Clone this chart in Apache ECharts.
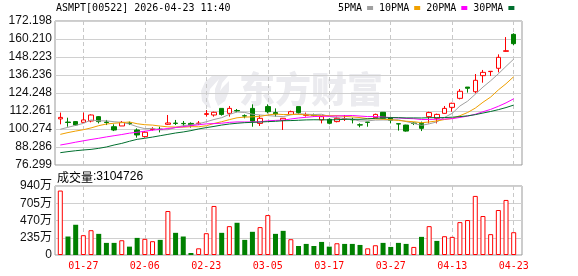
<!DOCTYPE html>
<html><head><meta charset="utf-8">
<script src="https://cdn.jsdelivr.net/npm/echarts@6/dist/echarts.min.js"></script>
<style>html,body{margin:0;padding:0;background:#fff}#c{width:578px;height:276px}</style>
</head><body><div id="c"></div>
<script>
const dates = ['01-22','01-23','01-26','01-27','01-28','01-29','01-30','02-02','02-03','02-04','02-05','02-06','02-09','02-10','02-11','02-12','02-13','02-16','02-20','02-23','02-24','02-25','02-26','02-27','03-02','03-03','03-04','03-05','03-06','03-09','03-10','03-11','03-12','03-13','03-16','03-17','03-18','03-19','03-20','03-23','03-24','03-25','03-26','03-27','03-30','03-31','04-01','04-02','04-08','04-09','04-10','04-13','04-14','04-15','04-16','04-17','04-20','04-21','04-22','04-23'];
const labelIdx = [3,11,19,27,35,43,51,59];
const openP = [107.0,104.9,105.2,104.7,105.6,108.5,104.9,101.8,102.3,104.2,99.6,95.2,100.0,100.2,103.4,104.2,104.0,104.0,103.9,110.0,109.6,114.0,110.7,112.6,109.1,114.0,104.0,115.2,111.2,106.0,110.0,115.2,109.4,109.6,106.3,106.7,105.2,107.0,106.6,103.1,104.9,107.8,111.4,107.8,103.8,102.9,104.2,104.0,108.5,107.4,110.7,114.7,120.7,128.2,125.1,135.8,138.5,140.7,152.0,163.3];
const closeP = [108.0,104.6,102.9,106.3,109.6,105.2,104.6,99.6,104.7,104.0,96.3,98.1,100.3,99.9,104.3,104.0,103.8,102.9,104.2,110.5,111.4,110.0,114.0,112.3,108.9,105.5,107.4,111.8,110.3,107.4,111.8,111.2,109.8,109.3,108.5,104.1,107.4,107.2,106.4,102.9,104.7,110.0,107.4,106.1,103.6,98.9,104.0,100.7,111.2,110.0,114.0,117.4,125.4,127.4,132.7,138.0,138.7,148.0,152.4,157.1];
const lowP = [103.4,101.8,102.3,104.5,104.7,104.0,102.9,98.9,102.3,102.9,94.5,94.5,99.2,98.0,102.9,102.9,101.8,101.2,102.9,108.5,108.5,109.2,108.5,111.4,107.4,101.8,102.3,110.7,108.5,99.6,109.6,110.0,108.5,108.5,104.0,103.4,104.7,105.6,104.0,101.4,101.8,107.4,107.0,104.0,99.2,98.5,102.9,98.9,104.0,104.0,110.5,111.8,120.0,124.5,124.0,131.1,135.6,138.0,151.8,156.2];
const highP = [111.2,107.8,105.6,111.2,110.0,108.9,106.3,103.4,105.6,105.2,100.7,98.9,101.5,101.8,109.6,106.3,105.6,104.7,105.6,112.9,111.8,114.0,115.6,113.6,110.0,116.7,109.6,116.7,114.0,107.4,112.5,115.2,111.2,110.5,108.9,107.4,108.5,109.6,107.8,104.0,105.0,110.5,111.6,108.5,104.0,103.1,104.7,105.2,111.8,110.5,115.6,117.8,126.9,128.2,136.9,139.6,138.7,150.0,161.5,164.0];
const ma5 = [100.1,101.4,102.7,104.0,106.3,105.7,105.7,105.1,104.7,103.6,101.8,100.5,100.7,99.7,99.8,101.3,102.5,103.0,103.8,105.1,106.6,107.8,110.0,111.6,111.3,110.1,109.6,109.2,108.8,108.5,109.7,110.5,110.1,109.9,110.1,108.6,107.8,107.3,106.7,105.6,105.7,106.2,106.3,106.2,106.4,105.2,104.0,102.7,103.7,105.0,108.0,110.7,115.6,118.8,123.4,128.2,132.4,137.0,142.0,146.8];
const ma10 = [96.7,97.9,98.9,99.8,101.0,102.5,103.6,104.1,104.5,104.95,103.78,103.13,102.87,102.23,101.70,101.58,101.50,101.83,101.78,102.43,103.94,105.13,106.50,107.74,108.20,108.35,108.71,109.60,110.21,109.90,109.94,110.06,109.64,109.34,109.30,109.16,109.16,108.70,108.31,107.86,107.15,107.03,106.79,106.47,105.98,105.46,105.12,104.47,104.95,105.66,106.59,107.33,109.13,111.26,114.17,118.08,121.55,126.28,130.40,135.11];
const ma20 = [89.6,90.5,91.5,92.4,93.3,94.1,95.0,95.8,96.6,97.5,98.1,98.8,99.5,100.0,100.6,101.2,101.8,102.5,103.1,103.69,103.86,104.13,104.69,104.99,104.95,104.97,105.11,105.72,106.00,106.17,106.94,107.60,108.07,108.54,108.75,108.76,108.94,109.15,109.26,108.88,108.55,108.55,108.22,107.91,107.64,107.31,107.14,106.59,106.63,106.76,106.87,107.18,107.96,108.87,110.08,111.77,113.34,115.38,117.68,120.39];
const ma30 = [84.5,85.2,85.8,86.3,86.7,87.4,88.3,89.6,90.7,92.1,93.4,94.1,94.9,95.8,96.7,97.6,98.3,99.2,100.3,101.2,102.0,102.9,103.6,104.1,104.5,104.7,104.9,105.2,105.4,105.76,105.88,106.10,106.33,106.43,106.40,106.36,106.45,106.71,106.76,106.73,107.01,107.40,107.64,107.85,107.82,107.65,107.66,107.59,107.82,107.81,107.89,108.14,108.52,109.02,109.82,110.90,111.94,113.15,114.55,116.21];
const volWan = [878,252,412,270,338,288,165,165,201,114,233,220,188,206,599,302,252,27,91,297,668,302,393,439,206,316,380,544,288,329,215,123,151,123,178,114,160,151,151,137,91,133,165,110,165,151,110,247,393,192,256,247,448,476,805,531,284,613,750,310.4726];
const volUp = [1,0,0,1,1,0,0,0,1,0,0,1,1,0,1,0,0,0,1,1,1,0,1,0,0,0,1,1,0,0,1,0,0,0,0,0,1,0,0,0,1,1,0,0,0,0,1,0,1,0,1,1,1,1,1,1,1,1,1,1];
const priceTickLabels = ['76.299','88.286','100.274','112.261','124.248','136.236','148.223','160.210','172.198'];
const volTickLabels = ['0','235万','470万','705万','940万'];
const maNames = ['5PMA','10PMA','20PMA','30PMA'];
const maColors = ['#a0a0a0','#f0a000','#ff00ff','#006f2e'];
const titleText = 'ASMPT[00522] 2026-04-23 11:40';
const volLabel = '成交量';
const volNow = '3104726';
const watermark = '东方财富';

const pMin = 76.299, pMax = 172.198, pInt = (pMax - pMin) / 8;
const xMin = -0.69, xMax = 60.08;
const mono = 'DejaVu Sans Mono';

const candleData = dates.map((d, i) => [i, openP[i], closeP[i], lowP[i], highP[i]]);
const volData = volWan.map((v, i) => ({
  value: [i, v],
  itemStyle: volUp[i] ? {color: '#ffffff', borderColor: '#ff0000', borderWidth: 1} : {color: '#008000', borderWidth: 0}
}));
const mas = [ma5, ma10, ma20, ma30];

const gridCommon = {show: true, borderColor: '#999', borderWidth: 1, backgroundColor: 'transparent'};
const xCommon = (gi, showLabel) => ({
  type: 'value', gridIndex: gi, min: xMin, max: xMax,
  axisLine: {show: false},
  axisTick: {show: false, customValues: labelIdx},
  splitLine: {show: true, lineStyle: {color: '#c8c8c8', type: [4, 3], width: 1}},
  axisLabel: {show: showLabel, customValues: labelIdx, color: '#ff0000', fontFamily: mono, fontSize: 10, margin: 6,
    formatter: v => dates[Math.round(v)] || ''}
});

const chart = echarts.init(document.getElementById('c'), null, {renderer: 'canvas'});
chart.setOption({
  animation: false,
  backgroundColor: '#fff',
  title: {text: titleText, left: 56, top: 3, padding: 0, textStyle: {fontFamily: mono, fontSize: 10, fontWeight: 'normal', color: '#000'}},
  legend: {data: maNames, left: 338, top: 3, padding: 0, align: 'right', icon: 'rect', itemWidth: 6, itemHeight: 4, itemGap: 6,
    textStyle: {fontFamily: mono, fontSize: 10, color: '#000'}},
  graphic: [
    {type: 'polygon', left: 201, top: 75, z: -10, silent: true,
      shape: {points: [[14,0],[6,7],[2,16],[3,26],[8,32],[12,33],[9,24],[11,14],[20,4],[16,14],[16,24],[19,31],[26,26],[30,16],[30,6],[24,12],[21,16],[23,8],[29,1],[22,0]]},
      style: {fill: '#ebebef'}},
    {type: 'text', left: 239, top: 71, z: -10, silent: true,
      style: {text: watermark, font: '900 36px "Noto Sans CJK SC"', fill: '#ebebef'}},
    {type: 'text', left: 57, top: 171,
      style: {text: '{a|' + volLabel + '}{b|:' + volNow + '}',
        rich: {a: {fontFamily: 'Noto Sans CJK SC', fontSize: 12, color: '#000'},
               b: {fontFamily: 'Liberation Sans', fontSize: 12, color: '#000'}}}}
  ],
  grid: [
    Object.assign({left: 55, right: 56, top: 21, height: 144}, gridCommon),
    Object.assign({left: 55, right: 56, top: 186, height: 69}, gridCommon)
  ],
  xAxis: [xCommon(0, false), xCommon(1, true)],
  yAxis: [
    {type: 'value', gridIndex: 0, min: pMin, max: pMax, interval: pInt, scale: true,
      axisLine: {show: false}, axisTick: {show: false},
      splitLine: {show: true, lineStyle: {color: '#d0d0d0', width: 1}},
      axisLabel: {color: '#111', fontFamily: 'Liberation Sans', fontSize: 12, margin: 3,
        formatter: v => priceTickLabels[Math.round((v - pMin) / pInt)] || ''}},
    {type: 'value', gridIndex: 1, min: 0, max: 940, interval: 235,
      axisLine: {show: false}, axisTick: {show: false},
      splitLine: {show: true, lineStyle: {color: '#d0d0d0', width: 1}},
      axisLabel: {color: '#111', fontFamily: 'Liberation Sans, Noto Sans CJK SC', fontSize: 12, margin: 3,
        formatter: v => volTickLabels[Math.round(v / 235)] || ''}}
  ],
  series: [
    {type: 'candlestick', xAxisIndex: 0, yAxisIndex: 0, data: candleData, encode: {x: 0, y: [1, 2, 3, 4]},
      barWidth: 5, z: 3,
      itemStyle: {color: '#ffffff', color0: '#008000', borderColor: '#ff0000', borderColor0: '#008000', borderWidth: 1}},
    ...mas.map((m, k) => ({
      type: 'line', name: maNames[k], xAxisIndex: 0, yAxisIndex: 0, data: m.map((v, i) => [i, v]),
      symbol: 'none', z: 4, lineStyle: {color: maColors[k], width: 1}, itemStyle: {color: maColors[k]}
    })),
    {type: 'bar', xAxisIndex: 1, yAxisIndex: 1, data: volData, barWidth: 5, z: 3}
  ]
});
</script></body></html>
